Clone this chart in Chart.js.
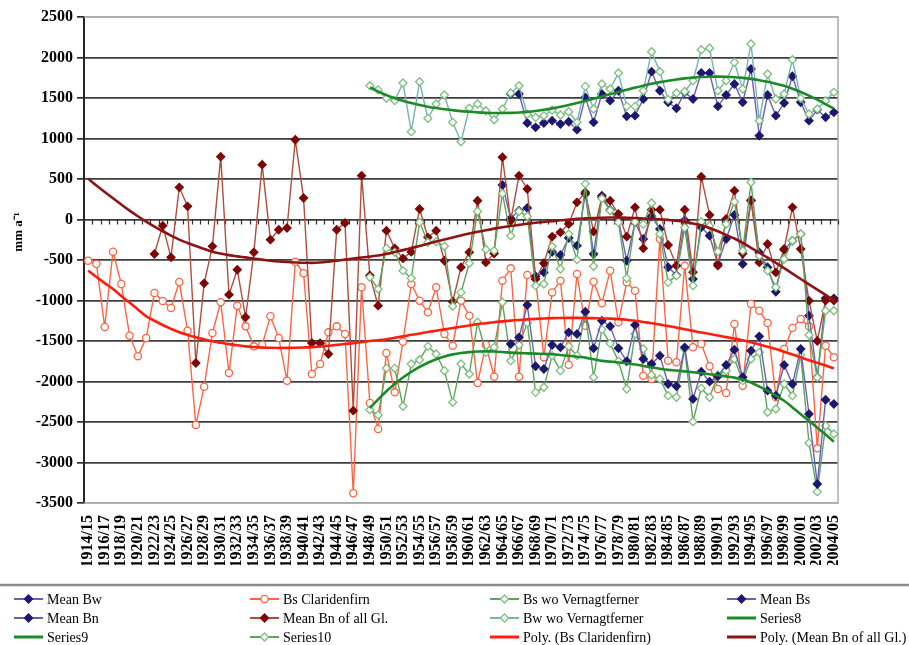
<!DOCTYPE html>
<html>
<head>
<meta charset="utf-8">
<script src="https://cdn.jsdelivr.net/npm/chart.js@4.4.1/dist/chart.umd.min.js"></script>
<style>
  html, body { margin: 0; padding: 0; background: #fff; }
  #wrap { width: 909px; height: 645px; }
</style>
</head>
<body>
<div id="wrap"><canvas id="c" width="909" height="645"></canvas></div>
<script>
// Balance years 1914/15 ... 2004/05
const firstYear = 1914;
const lastYear = 2004;
const categories = [];
for (let yr = firstYear; yr <= lastYear; yr++) {
  categories.push(yr + '/' + String((yr + 1) % 100).padStart(2, '0'));
}

// y axis ticks (mm a-1)
const yTicks = [2500, 2000, 1500, 1000, 500, 0, -500, -1000, -1500, -2000, -2500, -3000, -3500];

// series start at a given year index; earlier years have no record
function from(startIndex, values) {
  return new Array(startIndex).fill(null).concat(values);
}

// Bs Claridenfirn, 1914/15 - 2004/05
const bsClaridenfirn = from(0, [
  -509, -550, -1327, -397, -796, -1434, -1687, -1463, -907, -1006,
  -1093, -772, -1373, -2537, -2064, -1401, -1022, -1895, -1064, -1319,
  -1566, -1549, -1195, -1463, -1990, -521, -664, -1907, -1784, -1393,
  -1319, -1414, -3380, -837, -2265, -2586, -1648, -2134, -1508, -796,
  -1002, -1146, -837, -1414, -1558, -1002, -1188, -2019, -1549, -1941,
  -755, -603, -1941, -685, -726, -1700, -900, -755, -1793, -673,
  -1311, -768, -1035, -632, -1269, -775, -879, -1928, -1969, -240,
  -1743, -1763, -570, -1578, -1537, -1812, -2093, -2142, -1290, -2052,
  -1043, -1126, -1278, -2195, -1599, -1340, -1228, -1319, -2825, -1558,
  -1701
]);

// Mean Bn of all glaciers, from 1922/23
const meanBnAllGl = from(8, [
  -426, -76, -467, 397, 163, -1772, -788, -331, 776, -928,
  -620, -1207, -405, 677, -249, -126, -105, 985, 265, -1525,
  -1528, -1660, -126, -43, -2360, 541, -690, -1064, -138, -356,
  -480, -400, 130, -220, -138, -509, -1015, -590, -405, 232,
  -530, -420, 768, -15, 541, 377, -735, -540, -212, -158,
  -56, 212, 336, -150, 274, 232, 68, -212, 150, -356,
  121, 121, -315, -570, 121, -650, 529, 56, -570, 6,
  356, -420, 232, -530, -302, -653, -364, 150, -364, -1002,
  -1500, -1000, -1000
]);

// Vernagtferner excluded, from 1948/49
const bwWoVernagt = from(34, [
  1652, 1600, 1496, 1467, 1685, 1084, 1701, 1249, 1426, 1537,
  1200, 960, 1373, 1426, 1343, 1232, 1364, 1562, 1652, 1300,
  1260, 1280, 1350, 1290, 1330, 1200, 1644, 1364, 1673, 1611,
  1809, 1397, 1397, 1590, 2072, 1825, 1480, 1562, 1580, 1714,
  2096, 2114, 1590, 1714, 1940, 1611, 2167, 1220, 1796, 1488,
  1549, 1973, 1496, 1302, 1364, 1467, 1570
]);
const bsWoVernagt = from(34, [
  -2348, -2414, -1837, -1837, -2306, -1784, -1731, -1566, -1660, -1866,
  -2257, -1784, -1907, -1269, -1640, -1578, -1022, -1743, -1549, -1278,
  -2134, -2072, -1681, -1866, -1566, -1681, -1146, -1948, -1360, -1530,
  -1750, -2093, -1414, -1599, -1920, -1969, -2175, -2195, -1599, -2496,
  -2084, -2195, -1920, -1866, -1722, -1990, -1722, -1640, -2380, -2340,
  -2031, -2175, -1673, -2759, -3360, -2545, -2648
]);
const bnWoVernagt = from(34, [
  -714, -858, -356, -405, -632, -726, -35, -282, -274, -330,
  -1072, -900, -540, 100, -370, -385, 320, -200, 100, 40,
  -817, -796, -331, -611, -180, -496, 440, -578, 260, 110,
  -35, -726, -30, -60, 204, -179, -776, -693, -100, -817,
  -27, -81, -397, -56, 220, -385, 459, -447, -632, -837,
  -488, -262, -179, -1426, -1950, -1126, -1126
]);

// Means of the monitored glaciers
const meanBw = from(51, [
  1549, 1549, 1191, 1138, 1191, 1220, 1179, 1207, 1109, 1508,
  1200, 1549, 1467, 1590, 1274, 1282, 1488, 1825, 1590, 1447,
  1373, 1570, 1488, 1809, 1809, 1397, 1537, 1673, 1447, 1858,
  1035, 1537, 1282, 1438, 1768, 1447, 1220, 1356, 1262, 1323
]);
const meanBs = from(51, [
  -1537, -1455, -1056, -1812, -1846, -1549, -1578, -1393, -1414, -1138,
  -1590, -1249, -1319, -1590, -1750, -1302, -1722, -1784, -1681, -2031,
  -2059, -1578, -2216, -1879, -2002, -1936, -1796, -1607, -1948, -1619,
  -1442, -2113, -2175, -1796, -2031, -1599, -2401, -3265, -2225, -2278
]);
const meanBn = from(50, [
  426, 12, 109, 142, -700, -653, -400, -438, -228, -323,
  315, -426, 294, 117, 0, -509, -35, -241, 40, -117,
  -590, -686, -8, -735, -96, -200, -550, -241, 56, -550,
  239, -407, -590, -893, -373, -262, -180, -1188, -1948, -973,
  -973
]);

// Smoothed curves through the Vernagtferner-free winter and summer balances
const series8 = from(34, [
  1630, 1580, 1535, 1497, 1465, 1437, 1413, 1393, 1376, 1361,
  1349, 1338, 1330, 1323, 1318, 1315, 1314, 1316, 1321, 1329,
  1340, 1355, 1372, 1392, 1414, 1438, 1464, 1491, 1519, 1547,
  1575, 1602, 1628, 1652, 1675, 1696, 1714, 1729, 1742, 1752,
  1759, 1763, 1764, 1762, 1757, 1748, 1736, 1720, 1700, 1677,
  1650, 1615, 1575, 1530, 1480, 1425, 1370
]);
const series9 = from(34, [
  -2330, -2220, -2120, -2030, -1950, -1880, -1820, -1768, -1725, -1690,
  -1665, -1648, -1637, -1630, -1628, -1630, -1636, -1644, -1650, -1653,
  -1656, -1659, -1664, -1672, -1682, -1694, -1705, -1725, -1745, -1755,
  -1765, -1775, -1790, -1808, -1825, -1842, -1856, -1865, -1875, -1886,
  -1898, -1910, -1923, -1937, -1952, -1975, -2012, -2062, -2115, -2175,
  -2237, -2320, -2405, -2488, -2570, -2655, -2743
]);

// Polynomial trends
const polyClaridenfirn = from(0, [
  -630, -710, -785, -858, -945, -1025, -1110, -1195, -1250, -1302,
  -1350, -1393, -1425, -1455, -1480, -1504, -1522, -1539, -1553, -1566,
  -1574, -1580, -1584, -1586, -1585, -1583, -1580, -1576, -1568, -1558,
  -1548, -1537, -1527, -1514, -1500, -1490, -1478, -1461, -1443, -1424,
  -1407, -1390, -1373, -1356, -1340, -1324, -1308, -1292, -1280, -1268,
  -1258, -1248, -1240, -1233, -1227, -1222, -1218, -1216, -1215, -1215,
  -1216, -1218, -1220, -1224, -1230, -1238, -1250, -1265, -1280, -1298,
  -1315, -1335, -1355, -1375, -1395, -1413, -1432, -1452, -1470, -1492,
  -1516, -1542, -1570, -1600, -1632, -1667, -1703, -1737, -1770, -1803,
  -1840
]);
const polyMeanBnAllGl = from(0, [
  505, 420, 340, 262, 185, 110, 40, -27, -88, -145,
  -198, -249, -290, -328, -363, -397, -420, -440, -455, -468,
  -482, -495, -508, -518, -525, -530, -534, -535, -530, -520,
  -508, -495, -482, -470, -458, -445, -425, -402, -378, -352,
  -327, -300, -272, -247, -222, -197, -174, -152, -132, -113,
  -96, -80, -66, -52, -40, -30, -20, -10, -2, 8,
  14, 19, 22, 24, 25, 22, 18, 13, 8, 3,
  -5, -15, -30, -50, -72, -105, -145, -190, -235, -290,
  -350, -410, -470, -535, -600, -668, -735, -800, -865, -930,
  -1000
]);

const NAVY_LINE = '#6a60b8', NAVY_PT = '#1d176e';
const ORANGE = '#ff6442';
const GREEN_LINE = '#5da55d', GREEN_PT = '#7dbf7d';
const TEAL = '#74b4b2';
const BROWN_LINE = '#b24c3c', BROWN_PT = '#7d0606';
const TREND_GREEN = '#1c8a28', TREND_RED = '#ff1e0e', TREND_BROWN = '#8c1414';

function markerSeries(label, data, line, ptFill, ptStroke, style, radius) {
  return {
    label, data,
    borderColor: line, borderWidth: 1.4,
    pointStyle: style, pointRadius: radius,
    pointBackgroundColor: ptFill, pointBorderColor: ptStroke, pointBorderWidth: 1.3,
    tension: 0, fill: false
  };
}
function trendSeries(label, data, color) {
  return {
    label, data,
    borderColor: color, borderWidth: 2.6,
    pointRadius: 0, tension: 0.4, cubicInterpolationMode: 'monotone', fill: false
  };
}

const datasets = [
  markerSeries('Mean Bw', meanBw, NAVY_LINE, NAVY_PT, NAVY_PT, 'rectRot', 4),
  markerSeries('Bs Claridenfirn', bsClaridenfirn, ORANGE, '#ffffff', ORANGE, 'circle', 3.6),
  markerSeries('Bs wo Vernagtferner', bsWoVernagt, GREEN_LINE, '#ffffff', GREEN_PT, 'rectRot', 4),
  markerSeries('Mean Bs', meanBs, NAVY_LINE, NAVY_PT, NAVY_PT, 'rectRot', 4),
  markerSeries('Mean Bn', meanBn, NAVY_LINE, NAVY_PT, NAVY_PT, 'rectRot', 4),
  markerSeries('Mean Bn of all Gl.', meanBnAllGl, BROWN_LINE, BROWN_PT, BROWN_PT, 'rectRot', 4),
  markerSeries('Bw wo Vernagtferner', bwWoVernagt, TEAL, '#ffffff', GREEN_PT, 'rectRot', 4),
  trendSeries('Series8', series8, TREND_GREEN),
  trendSeries('Series9', series9, TREND_GREEN),
  markerSeries('Series10', bnWoVernagt, GREEN_LINE, '#ffffff', GREEN_PT, 'rectRot', 4),
  trendSeries('Poly. (Bs Claridenfirn)', polyClaridenfirn, TREND_RED),
  trendSeries('Poly. (Mean Bn of all Gl.)', polyMeanBnAllGl, TREND_BROWN)
];
// later series are painted over earlier ones
datasets.forEach((ds, k) => { ds.order = 100 - k; });

const SERIF = '"Liberation Serif", "Times New Roman", serif';

const decor = {
  id: 'decor',
  beforeDatasetsDraw(chart) {
    const { ctx, chartArea: a, scales: { x, y } } = chart;
    ctx.save();
    // frame of the plot area
    ctx.strokeStyle = '#ababab';
    ctx.lineWidth = 1.5;
    ctx.beginPath();
    ctx.moveTo(a.left, a.top);
    ctx.lineTo(a.right, a.top);
    ctx.lineTo(a.right, a.bottom);
    ctx.lineTo(a.left, a.bottom);
    ctx.stroke();
    // category tick marks on the zero line
    const y0 = y.getPixelForValue(0);
    const half = (x.getPixelForValue(1) - x.getPixelForValue(0)) / 2;
    ctx.strokeStyle = '#2e2e2e';
    ctx.lineWidth = 1.2;
    ctx.beginPath();
    for (let i = 0; i <= categories.length; i++) {
      const px = Math.round(x.getPixelForValue(i) - half) + 0.5;
      ctx.moveTo(px, y0);
      ctx.lineTo(px, y0 + 5);
    }
    ctx.stroke();
    ctx.restore();
  },
  afterDraw(chart) {
    const { ctx, width } = chart;
    ctx.save();
    // axis title
    ctx.translate(19, 232);
    ctx.rotate(-Math.PI / 2);
    ctx.fillStyle = '#000';
    ctx.textAlign = 'center';
    ctx.textBaseline = 'middle';
    ctx.font = 'bold 13px ' + SERIF;
    ctx.fillText('mm a\u207B\u00B9', 0, 0);
    ctx.restore();

    // legend panel
    ctx.save();
    ctx.strokeStyle = '#8a8a8a';
    ctx.lineWidth = 2.5;
    ctx.beginPath();
    ctx.moveTo(0, 585);
    ctx.lineTo(width, 585);
    ctx.stroke();

    const cols = [14, 250, 490, 727];
    const rows = [599, 618, 637];
    ctx.font = '14px ' + SERIF;
    ctx.textBaseline = 'middle';
    ctx.textAlign = 'left';
    chart.data.datasets.forEach((ds, k) => {
      const lx = cols[k % 4];
      const ly = rows[Math.floor(k / 4)];
      ctx.strokeStyle = ds.borderColor;
      ctx.lineWidth = ds.pointRadius ? 2 : 3;
      ctx.beginPath();
      ctx.moveTo(lx, ly);
      ctx.lineTo(lx + 29, ly);
      ctx.stroke();
      if (ds.pointRadius) {
        ctx.fillStyle = ds.pointBackgroundColor;
        ctx.strokeStyle = ds.pointBorderColor;
        ctx.lineWidth = ds.pointBorderWidth;
        Chart.helpers.drawPoint(ctx, {
          pointStyle: ds.pointStyle, rotation: 0,
          radius: ds.pointRadius, borderWidth: ds.pointBorderWidth
        }, lx + 14.5, ly);
      }
      ctx.fillStyle = '#000';
      ctx.fillText(ds.label, lx + 33, ly + 1);
    });
    ctx.restore();
  }
};

new Chart(document.getElementById('c'), {
  type: 'line',
  data: { labels: categories, datasets },
  options: {
    responsive: false,
    animation: false,
    events: [],
    layout: { padding: { left: 0, right: 71, top: 17, bottom: 80 } },
    plugins: { legend: { display: false }, tooltip: { enabled: false } },
    scales: {
      x: {
        type: 'category',
        offset: true,
        grid: { display: false },
        border: { display: false },
        ticks: {
          autoSkip: false,
          minRotation: 90,
          maxRotation: 90,
          padding: 4,
          color: '#000',
          font: { family: SERIF, size: 16, weight: 'bold' },
          callback: (v, i) => (i % 2 === 0 ? categories[i] : '')
        },
        afterFit: (s) => { s.height = 62; }
      },
      y: {
        min: yTicks[yTicks.length - 1],
        max: yTicks[0],
        afterBuildTicks: (s) => { s.ticks = yTicks.map(v => ({ value: v })); },
        grid: {
          color: (c) => (c.tick && (c.tick.value === yTicks[0] || c.tick.value === yTicks[yTicks.length - 1]) ? '#b0b0b0' : '#3e3e3e'),
          tickColor: '#2e2e2e',
          lineWidth: 1.7,
          tickLength: 7
        },
        border: { display: true, color: '#262626', width: 2 },
        ticks: {
          padding: 4,
          color: '#000',
          font: { family: SERIF, size: 16, weight: 'bold' },
          callback: (v) => String(v)
        },
        afterFit: (s) => { s.width = 84; }
      }
    }
  },
  plugins: [decor]
});
</script>
</body>
</html>
